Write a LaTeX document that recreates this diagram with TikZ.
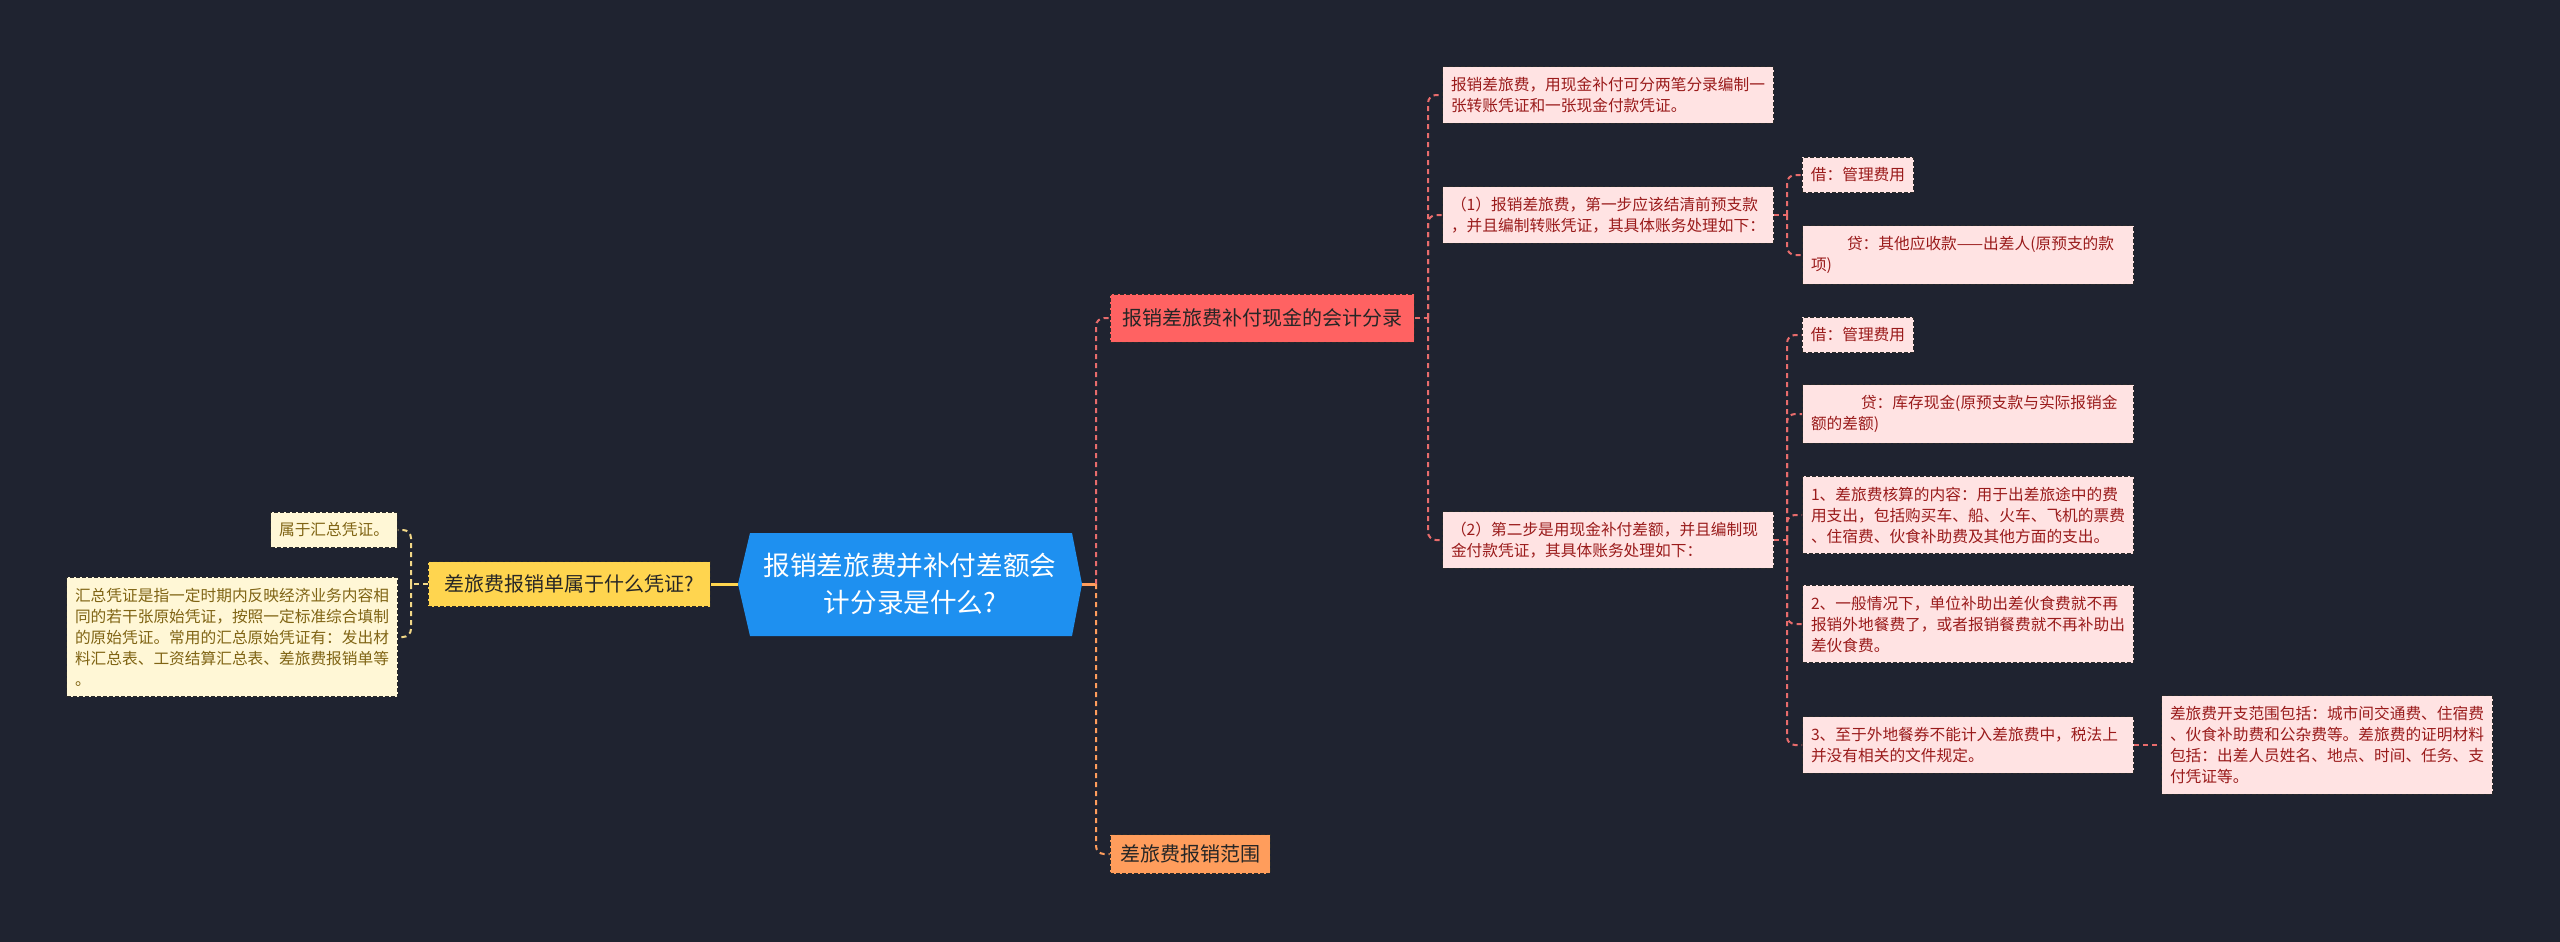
\documentclass[tikz,border=0pt]{standalone}
\usepackage{fontspec}
\setmainfont{Noto Sans CJK SC}
\usetikzlibrary{positioning}

\definecolor{bgnavy}{HTML}{1F2330}
\definecolor{rootblue}{HTML}{1E90F0}
\definecolor{qyellow}{HTML}{FFD54F}
\definecolor{cashred}{HTML}{FF6262}
\definecolor{rangeorange}{HTML}{FF9D5C}
\definecolor{leafpink}{HTML}{FFE3E3}
\definecolor{leafred}{HTML}{9A1B1B}
\definecolor{leafcream}{HTML}{FFF7D6}
\definecolor{leafolive}{HTML}{806414}
\definecolor{boxedge}{HTML}{2A2A2A}
\definecolor{linkred}{HTML}{E86C6C}
\definecolor{linkcream}{HTML}{F2D888}
\definecolor{linkorange}{HTML}{FF9D5C}

\newcommand{\rootfont}{\fontsize{13.3pt}{18.3pt}\selectfont}
\newcommand{\branchfont}{\fontsize{10pt}{12pt}\selectfont}
\newcommand{\leaffont}{\fontsize{7.85pt}{10.5pt}\selectfont}

\begin{document}
\begin{tikzpicture}[x=0.5pt, y=-0.5pt,
    box/.style={draw=boxedge, dash pattern=on 2pt off 1pt, line width=0.5pt},
    branchbox/.style={box, font=\branchfont, text=black!85, inner xsep=6pt, minimum height=23pt},
    leafbox/.style={box, font=\leaffont, inner xsep=4.25pt, inner ysep=5.2pt, align=left},
    pinkleaf/.style={leafbox, fill=leafpink, text=leafred},
    creamleaf/.style={leafbox, fill=leafcream, text=leafolive},
    wide/.style={text width=157pt},
    conn/.style={line width=1pt, dash pattern=on 2.5pt off 2pt, rounded corners=4pt}]
    \useasboundingbox (0,0) rectangle (2560,942);
    \fill[bgnavy] (0,0) rectangle (2560,942);

    % central topic
    \fill[rootblue] (738,584) -- (750,533) -- (1072,533) -- (1082,584) -- (1072,636) -- (750,636) -- cycle;
    \node[text=white, font=\rootfont, align=center, minimum width=172pt, minimum height=51.5pt, inner sep=0pt] (root) at (910,584) {报销差旅费并补付差额会\\计分录是什么?};

    % left side
    \node[branchbox, fill=qyellow, minimum width=141pt, minimum height=22.5pt] (q) at (569,584) {差旅费报销单属于什么凭证?};
    \node[creamleaf] (sumA) at (334,530) {属于汇总凭证。};
    \node[creamleaf, wide] (sumB) at (232,637) {汇总凭证是指一定时期内反映经济业务内容相\\同的若干张原始凭证，按照一定标准综合填制\\的原始凭证。常用的汇总原始凭证有：发出材\\料汇总表、工资结算汇总表、差旅费报销单等\\。};

    % right side, branches
    \node[branchbox, fill=cashred, minimum width=152pt, minimum height=24pt] (cash) at (1262,318) {报销差旅费补付现金的会计分录};
    \node[branchbox, fill=rangeorange, minimum width=80pt, minimum height=19.5pt, inner xsep=5pt] (range) at (1190,854) {差旅费报销范围};

    % cash entry leaves
    \node[pinkleaf, wide] (split) at (1608,95) {报销差旅费，用现金补付可分两笔分录编制一\\张转账凭证和一张现金付款凭证。};
    \node[pinkleaf, wide] (stepA) at (1608,215) {（1）报销差旅费，第一步应该结清前预支款\\，并且编制转账凭证，其具体账务处理如下：};
    \node[pinkleaf, wide] (stepB) at (1608,540) {（2）第二步是用现金补付差额，并且编制现\\金付款凭证，其具体账务处理如下：};

    \node[pinkleaf] (debA) at (1858,175) {借：管理费用};
    \node[pinkleaf, wide] (creA) at (1968,255) {\hspace*{18pt}贷：其他应收款——出差人(原预支的款\\项)};
    \node[pinkleaf] (debB) at (1858,335) {借：管理费用};
    \node[pinkleaf, wide] (creB) at (1968,414) {\hspace*{25pt}贷：库存现金(原预支款与实际报销金\\额的差额)};
    \node[pinkleaf, wide] (noteA) at (1968,515) {1、差旅费核算的内容：用于出差旅途中的费\\用支出，包括购买车、船、火车、飞机的票费\\、住宿费、伙食补助费及其他方面的支出。};
    \node[pinkleaf, wide] (noteB) at (1968,624) {2、一般情况下，单位补助出差伙食费就不再\\报销外地餐费了，或者报销餐费就不再补助出\\差伙食费。};
    \node[pinkleaf, wide] (noteC) at (1968,745) {3、至于外地餐券不能计入差旅费中，税法上\\并没有相关的文件规定。};
    \node[pinkleaf, wide] (extent) at (2327,745) {差旅费开支范围包括：城市间交通费、住宿费\\、伙食补助费和公杂费等。差旅费的证明材料\\包括：出差人员姓名、地点、时间、任务、支\\付凭证等。};

    % junctions
    \coordinate (qj) at (411,584);
    \coordinate (rootj) at (1096,584);
    \coordinate (cashj) at (1428,318);
    \coordinate (stepAj) at (1787,215);
    \coordinate (stepBj) at (1787,540);

    % connectors
    \draw[qyellow, line width=1.5pt] (root.west) -- (q.east);
    \draw[conn, linkcream] (q.west) -- (qj);
    \foreach \leaf in {sumA, sumB}
      \draw[conn, linkcream] (qj) |- (\leaf.east);

    \draw[linkorange, line width=1.5pt] (root.east) -- (rootj);
    \draw[conn, linkred] (rootj) |- (cash.west);
    \draw[conn, linkorange] (rootj) |- (range.west);

    \draw[conn, linkred] (cash.east) -- (cashj);
    \foreach \leaf in {split, stepA, stepB}
      \draw[conn, linkred] (cashj) |- (\leaf.west);

    \draw[conn, linkred] (stepA.east) -- (stepAj);
    \foreach \leaf in {debA, creA}
      \draw[conn, linkred] (stepAj) |- (\leaf.west);

    \draw[conn, linkred] (stepB.east) -- (stepBj);
    \foreach \leaf in {debB, creB, noteA, noteB, noteC}
      \draw[conn, linkred] (stepBj) |- (\leaf.west);

    \draw[conn, linkred] (noteC.east) -- (extent.west);
\end{tikzpicture}
\end{document}
